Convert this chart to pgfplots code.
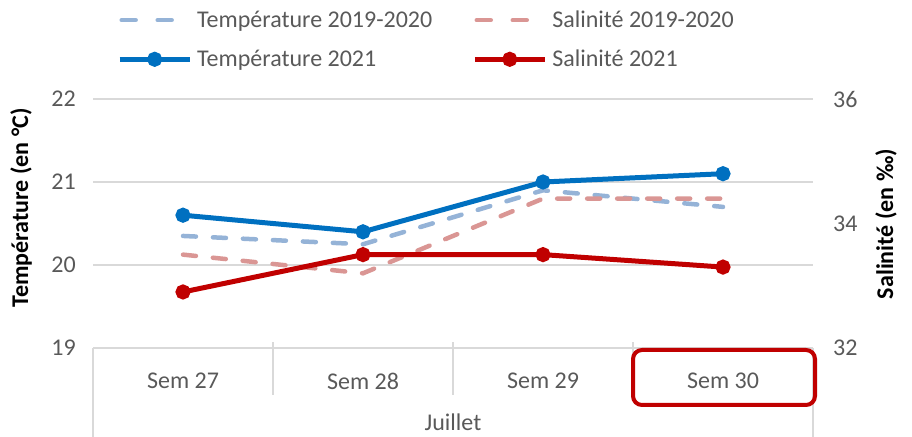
\documentclass[border=0pt]{standalone}
\usepackage{fontspec}
\setmainfont{Carlito}
\usepackage{pgfplots}
\pgfplotsset{compat=1.18}
\definecolor{tblue}{HTML}{0070C0}
\definecolor{tblueL}{HTML}{95B3D7}
\definecolor{sred}{HTML}{C00000}
\definecolor{sredL}{HTML}{DA9694}
\definecolor{ticktxt}{HTML}{595959}
\definecolor{gridc}{HTML}{D9D9D9}
\pgfplotsset{
  dashleg/.style={legend image code/.code={\draw[##1, dash pattern=on 14bp off 22bp] (2bp,0bp) -- (56bp,0bp);}},
  lineleg/.style={legend image code/.code={\draw[mark repeat=2,mark phase=2,##1] plot coordinates {(0bp,0bp) (35bp,0bp) (70bp,0bp)};}},
}
\begin{document}
\begin{tikzpicture}[font=\fontsize{24bp}{29bp}\selectfont]
\useasboundingbox (0,0) rectangle (912bp,437bp);
\begin{axis}[
  at={(93bp,89bp)}, anchor=south west,
  width=720bp, height=249bp, scale only axis,
  xmin=-0.5, xmax=3.5, ymin=19, ymax=22,
  xtick={0,1,2,3}, xticklabels={Sem 27,Sem 28,Sem 29,Sem 30},
  xticklabel style={ticktxt, anchor=center, inner sep=0pt, yshift=-33bp},
  ytick={19,20,21,22},
  ymajorgrids, grid style={gridc, line width=1.3bp},
  major tick length=0pt,
  axis line style={draw=none},
  yticklabel style={ticktxt, anchor=east, inner sep=0pt, xshift=-17bp},
  /pgf/number format/assume math mode=true,
  clip=false,
]
\addplot[tblueL, line width=4.5bp, dash pattern=on 13bp off 17bp, line cap=round] coordinates {(0,20.35) (1,20.25) (2,20.9) (3,20.7)};
\addplot[tblue, line width=5bp, mark=*, mark size=5bp, mark options={solid}] coordinates {(0,20.6) (1,20.4) (2,21.0) (3,21.1)};
\end{axis}
\begin{axis}[
  at={(93bp,89bp)}, anchor=south west,
  width=720bp, height=249bp, scale only axis,
  xmin=-0.5, xmax=3.5, ymin=32, ymax=36,
  xtick=\empty,
  ytick={32,34,36},
  yticklabel pos=right,
  major tick length=0pt,
  axis line style={draw=none},
  yticklabel style={ticktxt, anchor=west, inner sep=0pt, xshift=20bp},
  /pgf/number format/assume math mode=true,
  clip=false,
  legend columns=2,
  legend cell align=left,
  legend style={at={(0.0333,1.354)}, anchor=north west, draw=none, fill=none,
    inner sep=0pt, row sep=21bp, text=ticktxt,
    nodes={inner sep=0pt},
    /tikz/every odd column/.append style={column sep=5bp},
    /tikz/every even column/.append style={column sep=40bp}},
  lineleg,
]
\addlegendimage{tblueL, line width=4.5bp, line cap=round, dashleg}
\addlegendentry{Température 2019-2020}
\addplot[sredL, line width=4.5bp, dash pattern=on 13bp off 17bp, line cap=round, dashleg] coordinates {(0,33.5) (1,33.2) (2,34.4) (3,34.4)};
\addlegendentry{Salinité 2019-2020}
\addlegendimage{tblue, line width=5bp, mark=*, mark size=5bp, mark options={solid}}
\addlegendentry{Température 2021}
\addplot[sred, line width=5bp, mark=*, mark size=5bp, mark options={solid}] coordinates {(0,32.9) (1,33.5) (2,33.5) (3,33.3)};
\addlegendentry{Salinité 2021}
\end{axis}
% category axis frame
\draw[gridc, line width=1.5bp] (93bp,89bp) -- (813bp,89bp);
\draw[gridc, line width=1.5bp] (93bp,0bp) -- (93bp,89bp);
\draw[gridc, line width=1.5bp] (813bp,0bp) -- (813bp,89bp);
\foreach \xx in {273,453,633} \draw[gridc, line width=1.5bp] (\xx bp,42bp) -- (\xx bp,95bp);
\node[ticktxt] at (453bp,15bp) {Juillet};
\draw[sred, line width=4bp, rounded corners=9bp] (633bp,32bp) rectangle (815bp,87bp);
% axis titles
\node[rotate=90, font=\fontsize{24bp}{29bp}\selectfont\bfseries] at (21bp,229bp) {Température (en °C)};
\node[rotate=90, font=\fontsize{24bp}{29bp}\selectfont\bfseries] at (886bp,213bp) {Salinité (en ‰)};
\end{tikzpicture}
\end{document}
